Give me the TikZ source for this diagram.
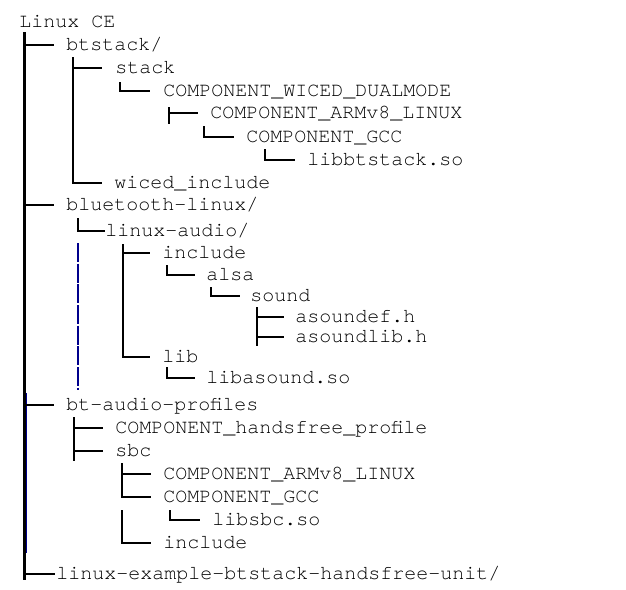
\documentclass[tikz,border=0pt]{standalone}
\usepackage{fontspec}
\newfontfamily\treefont{texgyrecursor-regular.otf}
\usetikzlibrary{calc}

\tikzset{
  entry/.style={anchor=west, inner sep=0pt, text height=8pt, text depth=0pt,
    font=\treefont\fontsize{15}{18}\selectfont, text=black},
  branch/.style={draw=black, line width=0.8pt},
  trunk/.style={draw=black, line width=2.3pt},
  guide/.style={draw=blue!55!black, line width=0.8pt, dash pattern=on 14.2pt off 1.3pt}
}

\begin{document}
\begin{tikzpicture}[x=0.75pt, y=-0.75pt]
  \useasboundingbox (0,0) rectangle (626,590);

  % entries
  \node[entry] (root) at (19,22) {Linux CE};
  \node[entry] (btstack) at (66,45) {btstack/};
  \node[entry] (stack) at (115,68) {stack};
  \node[entry] (wiced) at (163,91) {COMPONENT\_WICED\_DUALMODE};
  \node[entry] (armva) at (210,113) {COMPONENT\_ARMv8\_LINUX};
  \node[entry] (gcca) at (246,137) {COMPONENT\_GCC};
  \node[entry] (libbt) at (307,160) {libbtstack.so};
  \node[entry] (wicedinc) at (114,183) {wiced\_include};
  \node[entry] (btlinux) at (66,205) {bluetooth-linux/};
  \node[entry] (linaudio) at (105,231) {linux-audio/};
  \node[entry] (incla) at (162,253) {include};
  \node[entry] (alsa) at (206,275) {alsa};
  \node[entry] (sound) at (250,296) {sound};
  \node[entry] (asdef) at (295,317) {asoundef.h};
  \node[entry] (aslib) at (295,337) {asoundlib.h};
  \node[entry] (lib) at (162,357) {lib};
  \node[entry] (libasound) at (206,378) {libasound.so};
  \node[entry] (btaudio) at (66,405) {bt-audio-profiles};
  \node[entry] (handsfree) at (115,428) {COMPONENT\_handsfree\_profile};
  \node[entry] (sbc) at (115,451) {sbc};
  \node[entry] (armvb) at (163,474) {COMPONENT\_ARMv8\_LINUX};
  \node[entry] (gccb) at (163,497) {COMPONENT\_GCC};
  \node[entry] (libsbc) at (212,520) {libsbc.so};
  \node[entry] (inclb) at (163,543) {include};
  \node[entry] (example) at (56,574) {linux-example-btstack-handsfree-unit/};

  % main trunk
  \coordinate (trunktop) at (24.5,32);
  \coordinate (trunkend) at (24.5,580);
  \draw[trunk] (trunktop) -- (trunkend);
  \draw[guide, line width=0.6pt, dash pattern=] (26.6,393) -- (26.6,553);
  \draw[branch] (trunktop |- btstack) -- ($(btstack.west)+(-12,0)$);
  \draw[branch] (trunktop |- btlinux) -- ($(btlinux.west)+(-12,0)$);
  \draw[branch] (trunktop |- btaudio) -- ($(btaudio.west)+(-12,0)$);
  \draw[branch] (trunktop |- example) -- ($(example.west)+(-1,0)$);

  % btstack
  \draw[branch] (73,57) |- ($(stack.west)+(-13,0)$);
  \draw[branch] (73,57) |- ($(wicedinc.west)+(-12,0)$);
  \draw[branch] (120,82) |- ($(wiced.west)+(-13,0)$);
  \draw[branch] (169,107) -- (169,124);
  \draw[branch] (169,107) |- ($(armva.west)+(-12,0)$);
  \draw[branch] (204,126) |- ($(gcca.west)+(-12,0)$);
  \draw[branch] (265,149) |- ($(libbt.west)+(-12,0)$);

  % bluetooth-linux
  \draw[branch] (78,218) |- (linaudio.west);
  \draw[guide] (78,243) -- (78,390);
  \draw[branch] (123,244) |- ($(incla.west)+(-12,0)$);
  \draw[branch] (123,244) |- ($(lib.west)+(-12,0)$);
  \draw[branch] (167,265) |- ($(alsa.west)+(-11,0)$);
  \draw[branch] (211,287) |- ($(sound.west)+(-10,0)$);
  \draw[branch] (257,307) -- (257,346);
  \draw[branch] (257,307) |- ($(asdef.west)+(-11,0)$);
  \draw[branch] (257,307) |- ($(aslib.west)+(-11,0)$);
  \draw[branch] (167,367) |- ($(libasound.west)+(-11,0)$);

  % bt-audio-profiles
  \draw[branch] (74,417) -- (74,461);
  \draw[branch] (74,417) |- ($(handsfree.west)+(-12,0)$);
  \draw[branch] (74,417) |- ($(sbc.west)+(-12,0)$);
  \draw[branch] (122,463) |- ($(armvb.west)+(-12,0)$);
  \draw[branch] (122,463) |- ($(gccb.west)+(-12,0)$);
  \draw[branch] (122,510) |- ($(inclb.west)+(-12,0)$);
  \draw[branch] (170,510) |- ($(libsbc.west)+(-12,0)$);
\end{tikzpicture}
\end{document}
